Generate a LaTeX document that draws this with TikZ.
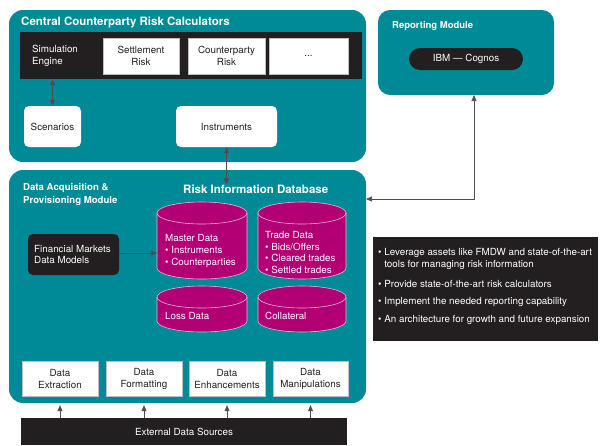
\documentclass[tikz,border=0pt]{standalone}
\usepackage{fontspec}
\setmainfont{TeX Gyre Heros}
\usetikzlibrary{arrows.meta}
\definecolor{teal1}{HTML}{008A98}
\definecolor{mag}{HTML}{B20074}
\definecolor{ink}{HTML}{231F20}
\definecolor{cylline}{HTML}{E9B3D2}
\tikzset{
  module/.style={fill=teal1, rounded corners=14pt, inner sep=0pt},
  blackbox/.style={fill=ink, inner sep=0pt},
  whitebox/.style={fill=white, draw=black!25, line width=0.4pt, inner sep=0pt, align=center, text=ink, font=\fontsize{9.8}{12}\selectfont},
  title/.style={text=white, font=\bfseries\fontsize{11.5}{13}\selectfont, anchor=west, inner sep=0pt},
  wtext/.style={text=white, font=\fontsize{9.8}{11.6}\selectfont, align=left, inner sep=0pt},
  conn/.style={draw=ink!80, line width=0.6pt},
  tip/.style={-{Triangle[length=6pt,width=5pt]}},
  tips/.style={{Triangle[length=6pt,width=5pt]}-{Triangle[length=6pt,width=5pt]}},
  cyldraw/.style={draw=cylline, line width=0.6pt}
}
\newcommand{\cylshape}[4]{% x1 y1 x2 y2
  \pgfmathsetmacro{\cx}{(#1+#3)/2}\pgfmathsetmacro{\rx}{(#3-#1)/2}
  \fill[mag] (#1,#2+11) rectangle (#3,#4-11);
  \fill[mag] (\cx,#4-11) ellipse[x radius=\rx, y radius=11];
  \fill[mag] (\cx,#2+11) ellipse[x radius=\rx, y radius=11];
  \draw[cyldraw] (\cx,#2+11) ellipse[x radius=\rx, y radius=11];
  \draw[cyldraw] (#1,#2+11) -- (#1,#4-11) arc[start angle=180,end angle=0,x radius=\rx,y radius=11] -- (#3,#2+11);
}
\begin{document}
\begin{tikzpicture}[x=1pt,y=-1pt]
\useasboundingbox (0,0) rectangle (600,445);
% Central Counterparty Risk Calculators
\node[module, minimum width=357pt, minimum height=152pt] (ccr) at (187.5,86) {};
\node[title] (ccrt) at (21,22) {Central Counterparty Risk Calculators};
\node[blackbox, minimum width=342pt, minimum height=47pt] (bar) at (191,55.5) {};
\node[wtext, anchor=west] (sim) at (32,56) {Simulation\\Engine};
\node[whitebox, minimum width=76pt, minimum height=36pt] (settle) at (141,56) {Settlement\\Risk};
\node[whitebox, minimum width=77pt, minimum height=36pt] (cpty) at (226.5,56) {Counterparty\\Risk};
\node[whitebox, minimum width=79pt, minimum height=36pt] (dots) at (308.5,56) {...};
\node[whitebox, draw=none, rounded corners=5pt, minimum width=57pt, minimum height=41pt] (scen) at (52.5,126.5) {Scenarios};
\node[whitebox, draw=none, rounded corners=5pt, minimum width=101pt, minimum height=41pt] (instr) at (226.5,126.5) {Instruments};
% Reporting module
\node[module, rounded corners=12pt, minimum width=176pt, minimum height=85pt] (rep) at (466,52.5) {};
\node[title, font=\bfseries\fontsize{9.5}{11}\selectfont] (rept) at (392,26) {Reporting Module};
\node[blackbox, rounded corners=11pt, minimum width=114pt, minimum height=22pt, text=white, font=\fontsize{9.8}{11}\selectfont] (cog) at (466,59) {IBM --- Cognos};
% Data acquisition module
\node[module, minimum width=357pt, minimum height=233pt] (dap) at (187.5,286.5) {};
\node[title, align=left, font=\bfseries\fontsize{9.6}{12.5}\selectfont] (dapt) at (23,194.5) {Data Acquisition \&\\Provisioning Module};
\node[title, font=\bfseries\fontsize{11.5}{13}\selectfont] (ridb) at (183,189) {Risk Information Database};
\node[blackbox, rounded corners=5pt, minimum width=91pt, minimum height=41pt] (fmdm) at (73.5,254.5) {};
\node[wtext, anchor=west, font=\fontsize{9.8}{11.5}\selectfont] (fmdmt) at (34,254.5) {Financial Markets\\Data Models};
% cylinders
\cylshape{157}{202}{247}{279}
\cylshape{258}{202}{346}{279}
\cylshape{157}{286}{247}{332}
\cylshape{258}{286}{346}{332}
\node[wtext, anchor=west] (master) at (165,251) {Master Data\\\textbullet\ Instruments\\\textbullet\ Counterparties};
\node[wtext, anchor=west] (trade) at (265,252.5) {Trade Data\\\textbullet\ Bids/Offers\\\textbullet\ Cleared trades\\\textbullet\ Settled trades};
\node[wtext, anchor=west] (loss) at (165,316) {Loss Data};
\node[wtext, anchor=west] (coll) at (265,316) {Collateral};
\coordinate (masterw) at (157,253);
% bottom boxes
\node[whitebox, minimum width=76pt, minimum height=35pt] (dx) at (60,378.5) {Data\\Extraction};
\node[whitebox, minimum width=76pt, minimum height=35pt] (df) at (144,378.5) {Data\\Formatting};
\node[whitebox, minimum width=76pt, minimum height=35pt] (de) at (227,378.5) {Data\\Enhancements};
\node[whitebox, minimum width=75pt, minimum height=35pt] (dm) at (310.5,378.5) {Data\\Manipulations};
\node[blackbox, minimum width=326pt, minimum height=27pt, text=white, font=\fontsize{9.8}{11}\selectfont] (ext) at (184,431.5) {External Data Sources};
% bullets box
\node[blackbox, minimum width=225pt, minimum height=104pt] (bul) at (485.5,289) {};
\node[wtext, anchor=north west, font=\fontsize{9.8}{12}\selectfont] (b1) at (378,248) {\textbullet\ Leverage assets like FMDW and state-of-the-art\\\hphantom{\textbullet\ }tools for managing risk information};
\node[wtext, anchor=west, font=\fontsize{9.8}{12}\selectfont] (b2) at (378,284) {\textbullet\ Provide state-of-the-art risk calculators};
\node[wtext, anchor=west, font=\fontsize{9.8}{12}\selectfont] (b3) at (378,302) {\textbullet\ Implement the needed reporting capability};
\node[wtext, anchor=west, font=\fontsize{9.8}{12}\selectfont] (b4) at (378,319.5) {\textbullet\ An architecture for growth and future expansion};
% connectors
\draw[conn, tips] (scen.north) -- (scen.north |- bar.south);
\draw[conn, tips] (instr.south) -- (instr.south |- ridb.north);
\coordinate (rp) at (474,95);
\coordinate (dp) at (366,199);
\draw[conn, tips] (rp) |- (dp);
\draw[conn, tip] (fmdm.east |- masterw) -- (masterw);
\foreach \b in {dx,df,de,dm}{
  \draw[conn, tip] (ext.north -| \b.south) -- ([yshift=-2pt]dap.south -| \b.south);
}
\end{tikzpicture}
\end{document}
